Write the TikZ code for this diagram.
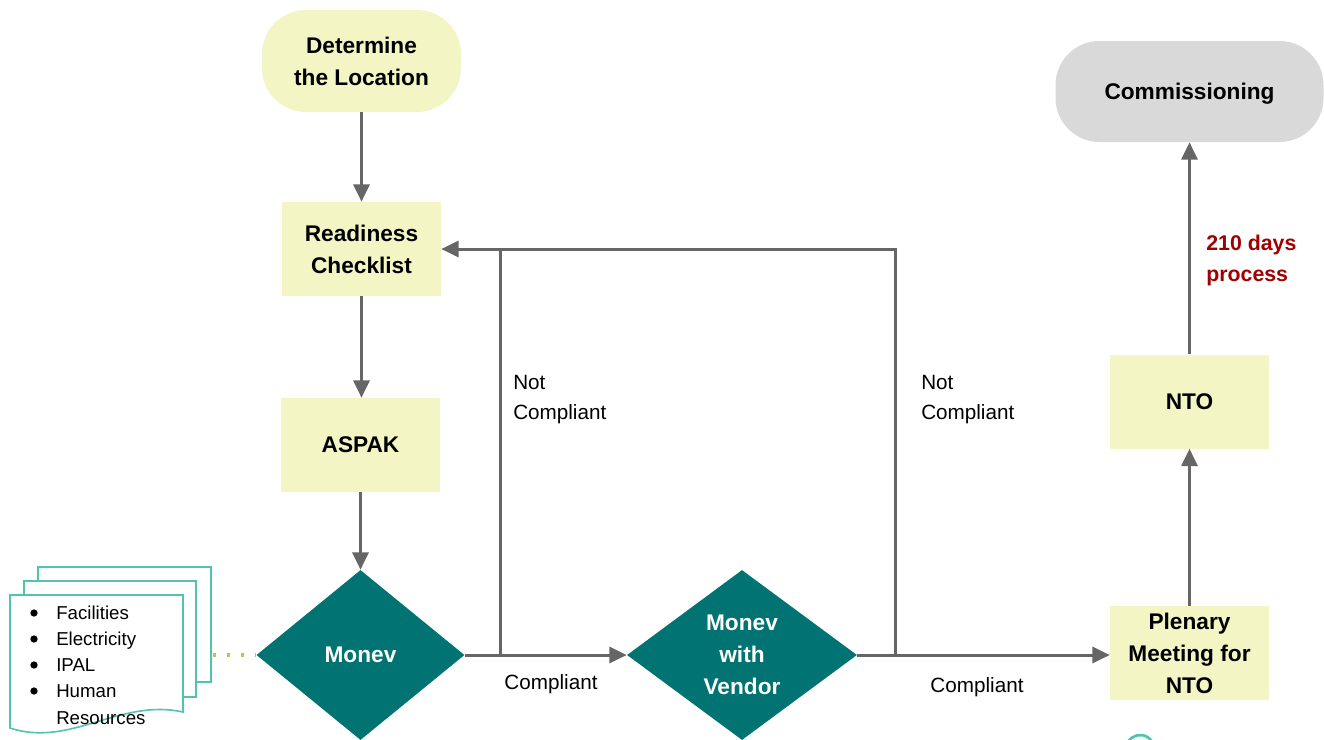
\documentclass[tikz,border=0pt]{standalone}
\usepackage{fontspec}
\setmainfont{Liberation Sans}
\usetikzlibrary{shapes.geometric,arrows.meta}
\definecolor{boxyel}{RGB}{243,245,196}
\definecolor{teal}{RGB}{1,115,115}
\definecolor{linegray}{RGB}{102,102,102}
\definecolor{commgray}{RGB}{217,217,217}
\definecolor{docteal}{RGB}{80,196,176}
\definecolor{dotyel}{RGB}{195,195,70}
\definecolor{darkred}{RGB}{160,0,0}
\begin{document}
\begin{tikzpicture}[x=0.75pt,y=-0.75pt,
  btext/.style={font=\bfseries\fontsize{17}{24}\selectfont,align=center,inner sep=0pt},
  ybox/.style={btext,rectangle,fill=boxyel,minimum width=119.25pt,minimum height=70.5pt},
  term/.style={btext,rectangle,rounded corners=33pt},
  dec/.style={btext,diamond,fill=teal,text=white,inner sep=0pt},
  conn/.style={draw=linegray,line width=2.25pt},
  arr/.style={conn,-{Triangle[length=13pt,width=12pt]}},
  lbl/.style={font=\fontsize{15.5}{22.5}\selectfont,inner sep=0pt,align=left},
  doc/.style={draw=docteal,line width=1.2pt,fill=white},
  item/.style={anchor=base west,inner sep=0pt,font=\fontsize{14}{19.5}\selectfont},
  bul/.style={circle,fill=black,inner sep=0pt,minimum size=5.5pt}
]
\useasboundingbox (0,0) rectangle (1324,739);

% nodes
\node[term,fill=boxyel,minimum width=149.25pt,minimum height=76.5pt] (det) at (361.5,61) {Determine\\the Location};
\node[ybox] (ready) at (361.5,249) {Readiness\\Checklist};
\node[ybox] (aspak) at (360.5,445) {ASPAK};
\node[dec,minimum width=156pt,minimum height=127.5pt] (monev) at (360.5,655) {Monev};
\node[dec,minimum width=172.5pt,minimum height=127.5pt] (vendor) at (742,655) {Monev\\with\\Vendor};
\node[ybox] (plen) at (1189.5,653) {Plenary\\Meeting for\\NTO};
\node[ybox] (nto) at (1189.5,401.5) {NTO};
\node[term,fill=commgray,minimum width=201pt,minimum height=75.75pt,text depth=0pt] (comm) at (1189.5,91.5) {Commissioning};

% document stack
\draw[doc] (38,567) rectangle (211,682);
\draw[doc] (24,581) rectangle (196,697);
\draw[doc] (10,595) -- (183,595) -- (183,712)
  .. controls (120,698) and (70,748) .. (10,728) -- cycle;
\node[item] (l1) at (56,619) {Facilities};
\node[item] (l2) at (56,645) {Electricity};
\node[item] (l3) at (56,671) {IPAL};
\node[item] (l4) at (56,697) {Human};
\node[item] (l5) at (56,724) {Resources};
\node[bul] (b1) at (34,613) {};
\node[bul] (b2) at (34,639) {};
\node[bul] (b3) at (34,665) {};
\node[bul] (b4) at (34,691) {};
\coordinate (docR) at (213,655);
\draw[draw=dotyel,line width=2.5pt,dash pattern=on 2.5pt off 8pt] (docR) -- (monev.west);

% connectors
\draw[arr] (det) -- (ready);
\draw[arr] (ready) -- (ready.south |- aspak.north);
\draw[arr] (aspak) -- (monev);
\draw[arr] (monev) -- (vendor);
\draw[arr] (vendor.east) -- (vendor.east -| plen.west);
\draw[arr] (plen) -- (nto);
\draw[arr] (nto) -- (comm);

\coordinate (j1) at (500,655);
\coordinate (t1) at (500,249);
\coordinate (j2) at (895,655);
\coordinate (t2) at (895,249);
\draw[conn] (j1) -- (t1);
\draw[arr] (j2) -- (t2) -- (ready.east);

% labels
\node[lbl,anchor=west] (nc1) at (513,400) {Not\\Compliant};
\node[lbl,anchor=west] (nc2) at (921,400) {Not\\Compliant};
\node[lbl] (c1) at (551,684) {Compliant};
\node[lbl] (c2) at (977,687) {Compliant};
\node[btext,align=left,anchor=west,text=darkred,font=\bfseries\fontsize{16}{23}\selectfont] (days) at (1206,260.5) {210 days\\process};

% partial circle at bottom edge
\draw[docteal,line width=2pt] (1128,742) arc (210:330:14);
\end{tikzpicture}
\end{document}
